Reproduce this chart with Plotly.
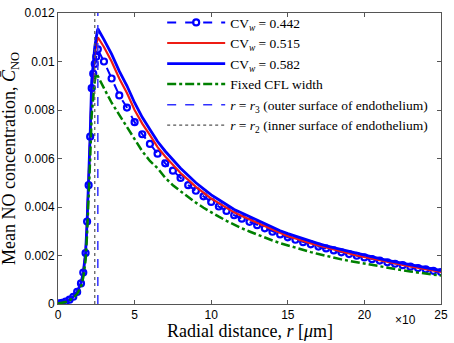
import plotly.graph_objects as go

# ---- data (radial distance in units of 10 µm) ----
r_grid = [0, 0.25, 0.5, 0.75, 1.0, 1.25, 1.5, 1.65, 1.8, 1.9, 2.0, 2.1, 2.2, 2.3, 2.4, 2.5, 2.6,
          3.0, 3.5, 4.0, 4.5, 5.0, 5.5, 6.0, 6.5, 7.0, 7.5, 8.0, 8.5, 9.0, 9.5, 10.0,
          10.5, 11.0, 11.5, 12.0, 12.5, 13.0, 13.5, 14.0, 14.5, 15.0, 15.5, 16.0, 16.5, 17.0,
          17.5, 18.0, 18.5, 19.0, 19.5, 20.0, 20.5, 21.0, 21.5, 22.0, 22.5, 23.0, 23.5, 24.0,
          24.5, 25.0]

cv_0442 = [0.00003, 0.00005, 0.0001, 0.00018, 0.0003, 0.0005, 0.00085, 0.0013, 0.0021, 0.0034,
           0.0049, 0.0069, 0.0089, 0.0095, 0.0099, 0.0102, 0.0105,
           0.0100, 0.0093, 0.0086, 0.0081, 0.0075, 0.0070, 0.0066, 0.0062, 0.0058, 0.0055, 0.0052,
           0.0049, 0.00467, 0.00444, 0.00421, 0.00402, 0.00384, 0.00366, 0.00352, 0.00339, 0.00325,
           0.00312, 0.00298, 0.00287, 0.00275, 0.00265, 0.00255, 0.00246, 0.00237, 0.00229, 0.00221,
           0.00213, 0.00206, 0.00199, 0.00192, 0.00185, 0.00179, 0.00172, 0.00166, 0.0016, 0.00154,
           0.00148, 0.00143, 0.00137, 0.00132]

cv_0515 = [0.00003, 0.00005, 0.0001, 0.00018, 0.0003, 0.0005, 0.00085, 0.0013, 0.0021, 0.0034,
           0.0049, 0.0069, 0.0090, 0.0097, 0.0103, 0.0107, 0.0110,
           0.0106, 0.0100, 0.0093, 0.0087, 0.0080, 0.00744, 0.00696, 0.00647, 0.00608, 0.00574,
           0.0054, 0.00512, 0.00483, 0.00459, 0.00435, 0.00416, 0.00397, 0.00378, 0.00363, 0.00349,
           0.00334, 0.0032, 0.00305, 0.00293, 0.0028, 0.0027, 0.00259, 0.0025, 0.00241, 0.00232,
           0.00224, 0.00216, 0.00208, 0.002, 0.00193, 0.00186, 0.0018, 0.00173, 0.00167, 0.00161,
           0.00155, 0.00149, 0.00143, 0.00137, 0.00132]

cv_0582 = [0.00003, 0.00005, 0.0001, 0.00018, 0.0003, 0.0005, 0.00085, 0.0013, 0.0021, 0.0034,
           0.0049, 0.0070, 0.0092, 0.0100, 0.0106, 0.0110, 0.01135,
           0.0109, 0.0103, 0.0096, 0.0090, 0.0083, 0.0077, 0.0072, 0.0067, 0.0063, 0.00595, 0.0056,
           0.0053, 0.0050, 0.00475, 0.0045, 0.0043, 0.0041, 0.0039, 0.00375, 0.0036, 0.00345,
           0.0033, 0.00315, 0.00302, 0.0029, 0.00279, 0.00268, 0.00258, 0.00249, 0.0024, 0.00232,
           0.00224, 0.00216, 0.00208, 0.00201, 0.00194, 0.00187, 0.0018, 0.00174, 0.00167, 0.00161,
           0.00155, 0.00149, 0.00143, 0.00138]

fixed_cfl = [0.00002, 0.00004, 0.00008, 0.00015, 0.00025, 0.00042, 0.0007, 0.0011, 0.0018, 0.0029,
             0.0042, 0.0060, 0.0078, 0.0087, 0.0092, 0.0095, 0.0094,
             0.0089, 0.0083, 0.0078, 0.0073, 0.0068, 0.0063, 0.0059, 0.0056, 0.0052, 0.0049, 0.00465,
             0.0044, 0.00418, 0.00397, 0.00377, 0.0036, 0.00343, 0.00327, 0.00312, 0.00299, 0.00286,
             0.00274, 0.00262, 0.00251, 0.00241, 0.00231, 0.00222, 0.00214, 0.00206, 0.00198, 0.00191,
             0.00184, 0.00178, 0.00172, 0.00166, 0.0016, 0.00155, 0.00149, 0.00144, 0.00139, 0.00134,
             0.0013, 0.00125, 0.00121, 0.00117]

r3 = 2.6   # outer surface of endothelium
r2 = 2.4   # inner surface of endothelium

x_ticks = [0, 5, 10, 15, 20, 25]
y_ticks = [0, 0.002, 0.004, 0.006, 0.008, 0.010, 0.012]
y_tick_labels = ["0", "0.002", "0.004", "0.006", "0.008", "0.01", "0.012"]

names = ["CV<sub><i>w</i></sub> = 0.442", "CV<sub><i>w</i></sub> = 0.515",
         "CV<sub><i>w</i></sub> = 0.582", "Fixed CFL width",
         "<i>r</i> = <i>r</i><sub>3</sub> (outer surface of endothelium)",
         "<i>r</i> = <i>r</i><sub>2</sub> (inner surface of endothelium)"]

fig = go.Figure()
fig.add_trace(go.Scatter(x=r_grid, y=cv_0442, name=names[0], mode="lines+markers",
                         line=dict(color="#0000ff", width=2, dash="dash"),
                         marker=dict(symbol="circle-open", size=6, color="#0000ff",
                                     line=dict(width=2.2, color="#0000ff"))))
fig.add_trace(go.Scatter(x=r_grid, y=cv_0515, name=names[1], mode="lines",
                         line=dict(color="#ee1c14", width=2.2)))
fig.add_trace(go.Scatter(x=r_grid, y=cv_0582, name=names[2], mode="lines",
                         line=dict(color="#0000ff", width=2.8)))
fig.add_trace(go.Scatter(x=r_grid, y=fixed_cfl, name=names[3], mode="lines",
                         line=dict(color="#008000", width=2.5, dash="dashdot")))
fig.add_trace(go.Scatter(x=[r3, r3], y=[y_ticks[0], y_ticks[-1]], name=names[4], mode="lines",
                         line=dict(color="#3030ff", width=1.5, dash="dash")))
fig.add_trace(go.Scatter(x=[r2, r2], y=[y_ticks[0], y_ticks[-1]], name=names[5], mode="lines",
                         line=dict(color="#555555", width=1.2, dash="dot")))

axis_common = dict(showline=True, linecolor="#555555", linewidth=1, mirror="allticks",
                   ticks="inside", ticklen=4, tickcolor="#555555", showgrid=False, zeroline=False,
                   tickfont=dict(family="Liberation Sans, Arial", size=12, color="black"))

fig.update_layout(
    width=454, height=343,
    margin=dict(l=58, r=9, t=6, b=39),
    paper_bgcolor="white", plot_bgcolor="white",
    xaxis=dict(range=[0, 25], tickvals=x_ticks, **axis_common),
    yaxis=dict(range=[0, 0.012], tickvals=y_ticks, ticktext=y_tick_labels, **axis_common),
    showlegend=True,
    legend=dict(x=0.272, y=1.02, xanchor="left", yanchor="top", bgcolor="rgba(0,0,0,0)",
                font=dict(family="Liberation Serif, Times New Roman", size=13.5, color="black"),
                itemwidth=58, tracegroupgap=0),
    annotations=[
        dict(text="Radial distance, <i>r</i> [<i>μ</i>m]", xref="paper", yref="paper",
             x=0.5, y=-0.093, xanchor="center", yanchor="middle", showarrow=False,
             font=dict(family="Liberation Serif, Times New Roman", size=18, color="black")),
        dict(text="Mean NO concentration, <i>C̄</i><sub>NO</sub>", xref="paper", yref="paper",
             x=-0.124, y=0.5, xanchor="center", yanchor="middle", showarrow=False, textangle=-90,
             font=dict(family="Liberation Serif, Times New Roman", size=18, color="black")),
        dict(text="×10", xref="paper", yref="paper", x=0.907, y=-0.054, xanchor="center",
             yanchor="middle", showarrow=False,
             font=dict(family="Liberation Sans, Arial", size=12, color="black")),
    ],
)

fig.write_html("out.html", config={"displayModeBar": False},
               post_script="document.body.style.margin='0';")
